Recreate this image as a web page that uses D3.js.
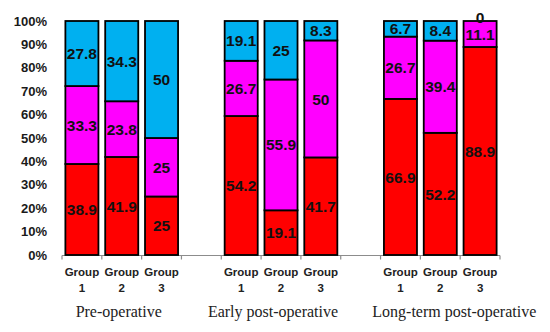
<!DOCTYPE html>
<html lang="en">
<head>
<meta charset="UTF-8">
<title>Stacked percentages by period</title>
<script src="https://d3js.org/d3.v7.min.js"></script>
<style>
    body { margin: 0; background: #fff; }
    .ytick { font: bold 13px "Liberation Sans", Arial, sans-serif; fill: #1a1a1a; }
    .seg-label { font: bold 15.5px "Liberation Sans", Arial, sans-serif; fill: #111; text-anchor: middle; }
    .group-label { font: bold 11.5px "Liberation Sans", Arial, sans-serif; fill: #222; text-anchor: middle; }
    .period-label { font: 16px "Liberation Serif", "Times New Roman", serif; fill: #222; text-anchor: middle; }
</style>
</head>
<body>
<div id="chart"></div>
<script>
    // data
    const periods = ["Pre-operative", "Early post-operative", "Long-term post-operative"];
    const groups = ["Group 1", "Group 2", "Group 3"];
    const seriesKeys = ["bottom", "middle", "top"];
    const seriesColors = ["#ff0000", "#ff00ff", "#00b0f0"];

    // bar heights as drawn (early post-op group 1 is drawn taller than its label says)
    const bottomValues = [[38.9, 41.9, 25], [59.4, 19.1, 41.7], [66.9, 52.2, 88.9]];
    const middleValues = [[33.3, 23.8, 25], [23.6, 55.9, 50], [26.7, 39.4, 11.1]];
    const topValues    = [[27.8, 34.3, 50], [17.0, 25, 8.3], [6.7, 8.4, 0]];
    // numbers printed on the bars
    const bottomLabels = [[38.9, 41.9, 25], [54.2, 19.1, 41.7], [66.9, 52.2, 88.9]];
    const middleLabels = [[33.3, 23.8, 25], [26.7, 55.9, 50], [26.7, 39.4, 11.1]];
    const topLabels    = [[27.8, 34.3, 50], [19.1, 25, 8.3], [6.7, 8.4, 0]];
    const yTicks = [0, 0.1, 0.2, 0.3, 0.4, 0.5, 0.6, 0.7, 0.8, 0.9, 1];

    const width = 550, height = 332;
    const margin = {top: 21, right: 50, bottom: 77, left: 62};
    const innerW = width - margin.left - margin.right;
    const innerH = height - margin.top - margin.bottom;

    const svg = d3.select("#chart").append("svg")
        .attr("width", width)
        .attr("height", height)
      .append("g")
        .attr("transform", `translate(${margin.left},${margin.top})`);

    // one slot per bar, with an empty slot between periods
    const rows = [];
    const slots = [];
    periods.forEach((p, pi) => {
        groups.forEach((g, gi) => {
            const key = p + "|" + g;
            slots.push(key);
            const raw = [bottomValues[pi][gi], middleValues[pi][gi], topValues[pi][gi]];
            const labels = [bottomLabels[pi][gi], middleLabels[pi][gi], topLabels[pi][gi]];
            const total = d3.sum(raw);
            rows.push({key, period: p, group: g, labels,
                       bottom: raw[0] / total, middle: raw[1] / total, top: raw[2] / total});
        });
        if (pi < periods.length - 1) slots.push("gap" + pi);
    });

    const x = d3.scaleBand().domain(slots).range([0, innerW]).padding(0);
    const y = d3.scaleLinear().domain([0, 1]).range([innerH, 0]);
    const barW = x.bandwidth() * 0.83;

    const stack = d3.stack().keys(seriesKeys)(rows);

    // y axis labels only
    const yAxis = svg.append("g")
        .call(d3.axisLeft(y).tickValues(yTicks).tickFormat(d3.format(".0%")).tickSize(0).tickPadding(15));
    yAxis.select(".domain").remove();
    yAxis.selectAll("text").attr("class", "ytick");

    // x axis line with ticks at every slot boundary
    const xAxis = svg.append("g")
        .attr("transform", `translate(0,${innerH + 0.5})`);
    xAxis.append("line")
        .attr("x1", 0).attr("x2", innerW)
        .attr("stroke", "#8c8c8c").attr("stroke-width", 1.2);
    const bounds = slots.map(s => x(s)).concat([innerW]);
    xAxis.selectAll(".bt").data(bounds).enter().append("line")
        .attr("x1", d => d).attr("x2", d => d)
        .attr("y1", 0).attr("y2", 4)
        .attr("stroke", "#8c8c8c").attr("stroke-width", 1.2);

    // bars
    stack.forEach((layer, li) => {
        svg.append("g").selectAll("rect")
            .data(layer)
            .enter().append("rect")
            .attr("x", d => x(d.data.key) + (x.bandwidth() - barW) / 2)
            .attr("y", d => y(d[1]))
            .attr("width", barW)
            .attr("height", d => y(d[0]) - y(d[1]))
            .attr("fill", seriesColors[li])
            .attr("stroke", "#000")
            .attr("stroke-width", 1.8);
    });

    // segment labels
    stack.forEach((layer, li) => {
        svg.append("g").selectAll("text")
            .data(layer)
            .enter().append("text")
            .attr("class", "seg-label")
            .attr("x", d => x(d.data.key) + x.bandwidth() / 2)
            .attr("y", d => d[1] - d[0] === 0 ? y(d[1]) - 4 : y((d[0] + d[1]) / 2))
            .attr("dy", "0.36em")
            .text(d => d.data.labels[li]);
    });

    // group labels (two lines)
    const gl = svg.append("g").selectAll("text")
        .data(rows)
        .enter().append("text")
        .attr("class", "group-label")
        .attr("x", d => x(d.key) + x.bandwidth() / 2)
        .attr("y", innerH + 21);
    gl.append("tspan").text(d => d.group.split(" ")[0]);
    gl.append("tspan")
        .attr("x", d => x(d.key) + x.bandwidth() / 2)
        .attr("dy", 16)
        .text(d => d.group.split(" ")[1]);

    // period labels
    const periodShift = [-3, -8, 14];
    svg.append("g").selectAll("text")
        .data(periods)
        .enter().append("text")
        .attr("class", "period-label")
        .attr("x", (p, i) => x(p + "|" + groups[1]) + x.bandwidth() / 2 + periodShift[i])
        .attr("y", innerH + 62)
        .text(p => p);
</script>
</body>
</html>
